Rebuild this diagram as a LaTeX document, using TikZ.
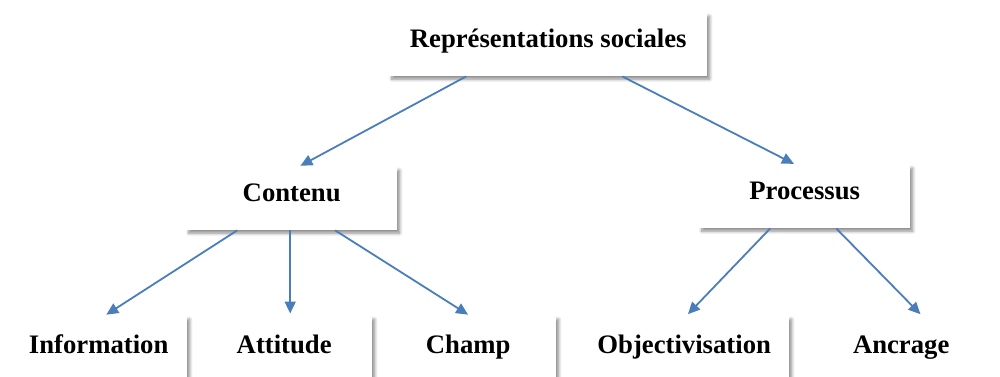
\documentclass[tikz,border=0pt]{standalone}
\usepackage{fontspec}
\setmainfont{Liberation Serif}
\usetikzlibrary{arrows.meta,shadows.blur,calc}
\definecolor{arrowblue}{HTML}{4A7EBB}
\tikzset{
  box/.style={anchor=north west, fill=white, inner xsep=0pt, inner ysep=0pt,
    align=center, font=\bfseries\fontsize{26.7}{30}\selectfont,
    blur shadow={shadow xshift=2.5pt, shadow yshift=-3pt, shadow blur radius=3pt,
      shadow blur steps=8, shadow opacity=45}},
  upper/.style={box, text height=34pt, text depth=29pt},
  lower/.style={box, text height=37.5pt, text depth=50pt},
  arr/.style={draw=arrowblue, line width=1.8pt, -{Triangle[length=12pt,width=11pt]}, shorten >=2.5pt}
}
\begin{document}
\begin{tikzpicture}[x=1pt,y=-1pt]
\useasboundingbox (0,0) rectangle (1000,376);
\clip (0,0) rectangle (1000,376);
\node[upper, minimum width=318pt] (top) at (389,13) {Représentations sociales};
\node[upper, minimum width=211pt] (contenu) at (186,167) {Contenu};
\node[upper, minimum width=211pt] (processus) at (699,165) {Processus};
\node[lower, minimum width=177pt] (info) at (10,316) {Information};
\node[lower, minimum width=176pt] (attitude) at (196,316) {Attitude};
\node[lower, minimum width=176pt] (champ) at (380,316) {Champ};
\node[lower, minimum width=210pt] (objectiv) at (579,316) {Objectivisation};
\node[lower, minimum width=210pt] (ancrage) at (796,316) {Ancrage};
\draw[arr] ([xshift=-82pt]top.south) -- ([xshift=6.5pt]contenu.north);
\draw[arr] ([xshift=74pt]top.south) -- ([xshift=-8.5pt]processus.north);
\draw[arr] ([xshift=-54.5pt]contenu.south) -- ([xshift=5.5pt]info.north);
\draw[arr] ([xshift=-1.5pt]contenu.south) -- ([xshift=6pt]attitude.north);
\draw[arr] ([xshift=43.5pt]contenu.south) -- ([xshift=2pt]champ.north);
\draw[arr] ([xshift=-34.5pt]processus.south) -- ([xshift=2pt]objectiv.north);
\draw[arr] ([xshift=31.5pt]processus.south) -- ([xshift=21pt]ancrage.north);
\end{tikzpicture}
\end{document}
